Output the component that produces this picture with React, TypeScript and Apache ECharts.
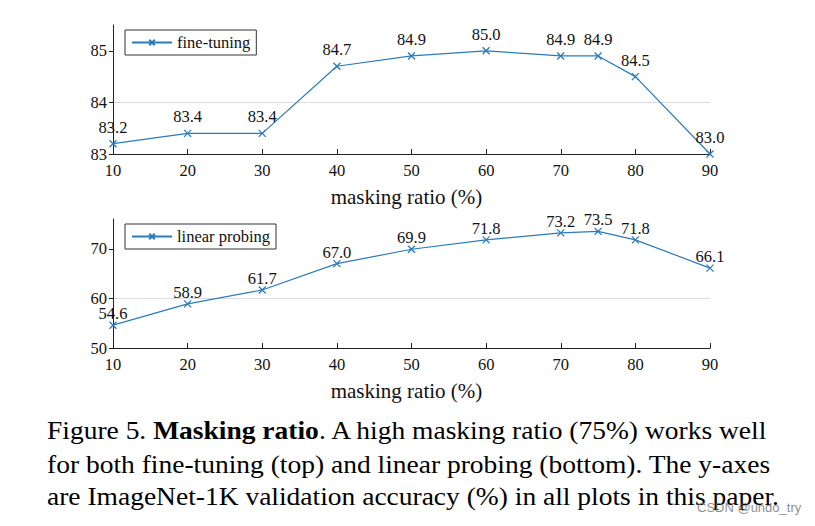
import React, { useEffect, useRef } from "react";
import * as echarts from "echarts";

const ratiosFT = [10, 20, 30, 40, 50, 60, 70, 75, 80, 90];
const fineTuning = [83.2, 83.4, 83.4, 84.7, 84.9, 85.0, 84.9, 84.9, 84.5, 83.0];
const ratiosLP = [10, 20, 30, 40, 50, 60, 70, 75, 80, 90];
const linearProbing = [54.6, 58.9, 61.7, 67.0, 69.9, 71.8, 73.2, 73.5, 71.8, 66.1];
const ftTicks = [83, 84, 85];
const lpTicks = [50, 60, 70];
const xName = "masking ratio (%)";
const captionLine2 = "for both fine-tuning (top) and linear probing (bottom). The y-axes";
const captionLine3 = "are ImageNet-1K validation accuracy (%) in all plots in this paper.";
const watermark = "CSDN @undo_try";

const SERIF = "'Liberation Serif', 'Times New Roman', serif";
const BLUE = "#2b7bba";
const CROSS = "path://M0 0L10 10M10 0L0 10";
const CAP_SIZE = 25;
const CAP_SCALE = 1.1;

function xAxis(gridIndex: number) {
  return {
    type: "value" as const,
    gridIndex,
    min: 10,
    max: 90,
    interval: 10,
    name: xName,
    nameLocation: "middle" as const,
    nameGap: 32,
    nameTextStyle: { fontFamily: SERIF, fontSize: 21, color: "#111", padding: [0, 10, 0, 0] },
    axisLine: { show: true, lineStyle: { color: "#222", width: 1 } },
    axisTick: { show: true, inside: true, length: 5, lineStyle: { color: "#222" } },
    axisLabel: { fontFamily: SERIF, fontSize: 16.5, color: "#111", margin: 8 },
    splitLine: { show: false },
  };
}

function yAxis(gridIndex: number, min: number, max: number, ticks: number[]) {
  return {
    type: "value" as const,
    gridIndex,
    min,
    max,
    interval: ticks[1] - ticks[0],
    axisLine: { show: true, lineStyle: { color: "#222", width: 1 } },
    axisTick: { show: true, length: 4, customValues: ticks, lineStyle: { color: "#222" } },
    axisLabel: {
      fontFamily: SERIF,
      fontSize: 16.5,
      color: "#111",
      margin: 6,
      customValues: ticks,
    },
    splitLine: { show: true, showMinLine: false, showMaxLine: false, lineStyle: { color: "#dddddd", width: 1 } },
  };
}

function series(name: string, xs: number[], ys: number[], idx: number, labelDistance: number) {
  return {
    name,
    type: "line" as const,
    xAxisIndex: idx,
    yAxisIndex: idx,
    data: xs.map((x, i) => [x, ys[i]]),
    symbol: CROSS,
    symbolSize: 7,
    showAllSymbol: true,
    lineStyle: { color: BLUE, width: 1.2 },
    itemStyle: { color: "none", borderColor: BLUE, borderWidth: 1.3 },
    label: {
      show: true,
      position: "top" as const,
      distance: labelDistance,
      fontFamily: SERIF,
      fontSize: 16.5,
      color: "#111",
      formatter: (p: any) => p.value[1].toFixed(1),
    },
  };
}

function legend(name: string, top: number) {
  return {
    data: [name],
    left: 125,
    top,
    orient: "vertical" as const,
    padding: [4, 6, 4, 6],
    borderColor: "#333",
    borderWidth: 1,
    itemWidth: 40,
    itemHeight: 7,
    textStyle: { fontFamily: SERIF, fontSize: 16.5, color: "#111" },
  };
}

export default function App() {
  const ref = useRef<HTMLDivElement>(null);
  useEffect(() => {
    if (!ref.current) return;
    const chart = echarts.init(ref.current, undefined, { renderer: "svg" });
    chart.setOption({
      animation: false,
      backgroundColor: "#ffffff",
      grid: [
        { left: 113, right: 105, top: 25, height: 129 },
        { left: 113, right: 105, top: 219, height: 129 },
      ],
      xAxis: [xAxis(0), xAxis(1)],
      yAxis: [yAxis(0, 83, 85.5, ftTicks), yAxis(1, 50, 76, lpTicks)],
      legend: [legend("fine-tuning", 30), legend("linear probing", 224)],
      series: [
        series("fine-tuning", ratiosFT, fineTuning, 0, 2),
        series("linear probing", ratiosLP, linearProbing, 1, -3),
      ],
      graphic: [
        {
          type: "text",
          x: 47,
          y: 430.5,
          scaleX: CAP_SCALE,
          style: {
            text: "{n|Figure 5. }{b|Masking ratio}{n|. A high masking ratio (75%) works well}",
            verticalAlign: "middle",
            rich: {
              n: { fontFamily: SERIF, fontSize: CAP_SIZE, fill: "#000" },
              b: { fontFamily: SERIF, fontSize: CAP_SIZE, fontWeight: "bold", fill: "#000" },
            },
          },
        },
        {
          type: "text",
          x: 47,
          y: 464.5,
          scaleX: CAP_SCALE,
          style: { text: captionLine2, fontFamily: SERIF, fontSize: CAP_SIZE, fill: "#000", verticalAlign: "middle" },
        },
        {
          type: "text",
          x: 47,
          y: 496.5,
          scaleX: CAP_SCALE,
          style: { text: captionLine3, fontFamily: SERIF, fontSize: CAP_SIZE, fill: "#000", verticalAlign: "middle" },
        },
        {
          type: "text",
          left: 697,
          top: 501,
          style: { text: watermark, fontFamily: "'Liberation Sans', Arial, sans-serif", fontSize: 13, fill: "rgba(120,120,120,0.85)" },
        },
      ],
    });
    return () => chart.dispose();
  }, []);
  return (
    <div
      ref={ref}
      style={{ position: "fixed", left: 0, top: 0, width: 815, height: 526, background: "#fff" }}
    />
  );
}
